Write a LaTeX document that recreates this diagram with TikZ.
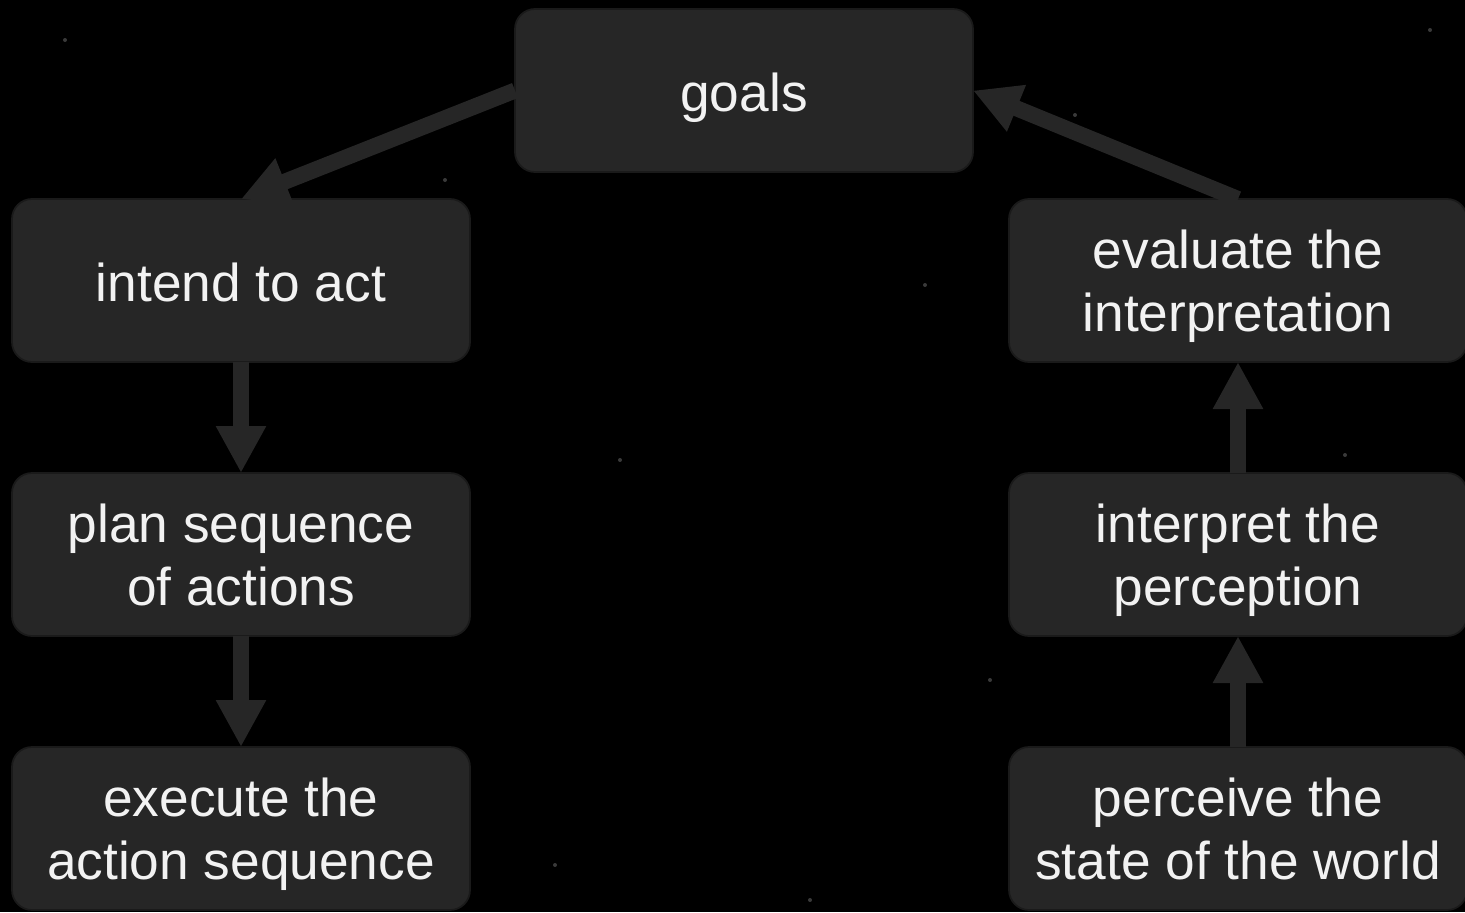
\documentclass[tikz,border=0pt]{standalone}
\usepackage{fontspec}
\setmainfont{Liberation Sans}
\usepackage{tikz}
\usetikzlibrary{positioning,arrows.meta}

\definecolor{boxfill}{HTML}{262626}
\definecolor{boxline}{HTML}{1A1A1A}
\definecolor{boxtext}{HTML}{F2F2F2}
\definecolor{stardim}{HTML}{3A3A3A}

\tikzset{
  stagebox/.style={draw=boxline, line width=1pt, fill=boxfill, rounded corners=0.4cm,
    minimum width=9.16cm, minimum height=3.26cm, outer sep=0pt, inner sep=0pt,
    align=center, text=boxtext, font=\fontsize{30.3}{35.9}\selectfont,
    text depth=0pt, execute at begin node={\rule{0pt}{0.82cm}}},
  flow/.style={draw=boxfill, line width=0.32cm,
    -{Triangle[length=0.94cm, width=0.94cm]}}
}

\begin{document}
\begin{tikzpicture}
    \fill[black] (0,0) rectangle (29.3,-18.24);
    \useasboundingbox (0,0) rectangle (29.3,-18.24);
    % faint stars
    \foreach \sx/\sy in {1.3/-0.8, 8.9/-3.6, 18.5/-5.7, 12.4/-9.2, 19.8/-13.6, 16.2/-18.0, 26.9/-9.1, 11.1/-17.3, 28.6/-0.6, 21.5/-2.3}
        \fill[stardim] (\sx,\sy) circle (0.04);

    \node[stagebox] (goals) at (14.88,-1.81) {goals};
    \node[stagebox] (intend) at (4.82,-5.61) {intend to act};
    \node[stagebox, below=2.22cm of intend] (plan) {plan sequence\\of actions};
    \node[stagebox, below=2.22cm of plan] (execute) {execute the\\action sequence};
    \node[stagebox] (evaluate) at (24.76,-5.61) {evaluate the\\interpretation};
    \node[stagebox, below=2.22cm of evaluate] (interpret) {interpret the\\perception};
    \node[stagebox, below=2.22cm of interpret] (perceive) {perceive the\\state of the world};

    \draw[flow] (goals.west) -- (intend.north);
    \draw[flow] (intend) -- (plan);
    \draw[flow] (plan) -- (execute);
    \draw[flow] (perceive) -- (interpret);
    \draw[flow] (interpret) -- (evaluate);
    \draw[flow] (evaluate.north) -- (goals.east);
\end{tikzpicture}
\end{document}
